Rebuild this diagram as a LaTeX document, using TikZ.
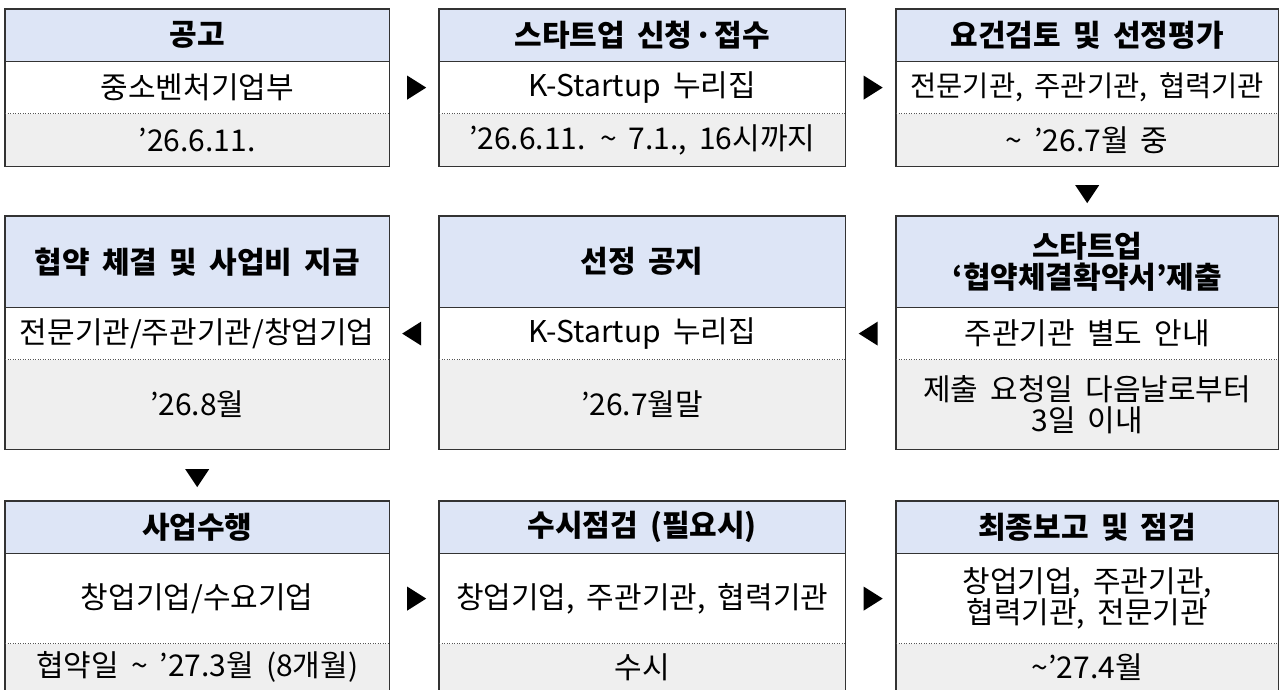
\documentclass[tikz,border=0pt]{standalone}
\usepackage{fontspec}
\setmainfont{Noto Sans CJK KR}[WordSpace=1.8]
\usetikzlibrary{positioning,calc}

\definecolor{headblue}{HTML}{DDE5F6}
\definecolor{footgray}{HTML}{EFEFEF}
\definecolor{framegray}{HTML}{333333}
\definecolor{dotgray}{HTML}{555555}

\newcommand{\arrowR}[2]{\fill ($(#1.east)!0.5!(#2.west)$) +(-7,-12) -- +(12,0) -- +(-7,12) -- cycle;}
\newcommand{\arrowL}[2]{\fill ($(#1.west)!0.5!(#2.east)$) +(7,-12) -- +(-12,0) -- +(7,12) -- cycle;}
\newcommand{\arrowD}[2]{\fill ($(#1.south)!0.5!(#2.north)$) +(-12,-6) -- +(12,-6) -- +(0,12) -- cycle;}

\begin{document}
\begin{tikzpicture}[x=1pt,y=-1pt,
    cell/.style={inner sep=0pt, align=center, font=\fontsize{30}{31}\selectfont},
    head/.style={cell, fill=headblue, font=\fontsize{30}{31}\selectfont\bfseries},
    body/.style={cell, fill=white},
    foot/.style={cell, fill=footgray},
    snug/.style={font=\fontsize{28.5}{31}\selectfont},
    colA/.style={minimum width=384pt}, colB/.style={minimum width=406pt},
    colC/.style={minimum width=382pt},
    frame/.style={draw=framegray, line width=1.3pt},
    dotline/.style={draw=dotgray, line width=1pt, dash pattern=on 1pt off 1.5pt}]
    \useasboundingbox (0,0) rectangle (1280,690);

    % row 1
    \node[head, colA, minimum height=52pt, anchor=north west] (notice-h) at (5,9) {공고};
    \node[body, colA, minimum height=52pt, below=0pt of notice-h] (notice-b) {중소벤처기업부};
    \node[foot, colA, minimum height=52pt, below=0pt of notice-b] (notice-f) {’26.6.11.};

    \node[head, colB, minimum height=52pt, anchor=north west] (apply-h) at (439,9) {스타트업 신청\hspace{2pt}·\hspace{2pt}접수};
    \node[body, colB, minimum height=52pt, below=0pt of apply-h] (apply-b) {K-Startup 누리집};
    \node[foot, colB, minimum height=52pt, below=0pt of apply-b] (apply-f) {’26.6.11. \textasciitilde{} 7.1., 16시까지};

    \node[head, colC, minimum height=52pt, anchor=north west] (review-h) at (896,9) {요건검토 및 선정평가};
    \node[body, colC, snug, minimum height=52pt, below=0pt of review-h] (review-b) {전문기관, 주관기관, 협력기관};
    \node[foot, colC, minimum height=52pt, below=0pt of review-b] (review-f) {\textasciitilde{} ’26.7월 중};

    % row 2
    \node[head, colC, minimum height=91pt, anchor=north west] (pledge-h) at (896,216) {스타트업\\‘협약체결확약서’제출};
    \node[body, colC, minimum height=52pt, below=0pt of pledge-h] (pledge-b) {주관기관 별도 안내};
    \node[foot, colC, minimum height=89pt, below=0pt of pledge-b] (pledge-f) {제출 요청일 다음날로부터\\3일 이내};

    \node[head, colB, minimum height=91pt, anchor=north west] (announce-h) at (439,216) {선정 공지};
    \node[body, colB, minimum height=52pt, below=0pt of announce-h] (announce-b) {K-Startup 누리집};
    \node[foot, colB, minimum height=89pt, below=0pt of announce-b] (announce-f) {’26.7월말};

    \node[head, colA, minimum height=91pt, anchor=north west] (contract-h) at (5,216) {협약 체결 및 사업비 지급};
    \node[body, colA, minimum height=52pt, below=0pt of contract-h] (contract-b) {전문기관/주관기관/창업기업};
    \node[foot, colA, minimum height=89pt, below=0pt of contract-b] (contract-f) {’26.8월};

    % row 3
    \node[head, colA, minimum height=52pt, anchor=north west] (perform-h) at (5,501) {사업수행};
    \node[body, colA, minimum height=90pt, below=0pt of perform-h] (perform-b) {창업기업/수요기업};
    \node[foot, colA, minimum height=46pt, below=0pt of perform-b] (perform-f) {협약일 \textasciitilde{} ’27.3월 (8개월)};

    \node[head, colB, minimum height=52pt, anchor=north west] (inspect-h) at (439,501) {수시점검 (필요시)};
    \node[body, colB, minimum height=90pt, below=0pt of inspect-h] (inspect-b) {창업기업, 주관기관, 협력기관};
    \node[foot, colB, minimum height=46pt, below=0pt of inspect-b] (inspect-f) {수시};

    \node[head, colC, minimum height=52pt, anchor=north west] (report-h) at (896,501) {최종보고 및 점검};
    \node[body, colC, minimum height=90pt, below=0pt of report-h] (report-b) {창업기업, 주관기관,\\협력기관, 전문기관};
    \node[foot, colC, minimum height=46pt, below=0pt of report-b] (report-f) {\textasciitilde’27.4월};

    % frames and separators
    \foreach \s in {notice,apply,review,pledge,announce,contract,perform,inspect,report}{
      \draw[frame] (\s-h.north west) rectangle (\s-f.south east);
      \draw[frame] (\s-h.south west) -- (\s-h.south east);
      \draw[dotline] (\s-b.south west) -- (\s-b.south east);
    }

    % flow marks
    \arrowR{notice-b}{apply-b}
    \arrowR{apply-b}{review-b}
    \arrowD{review-f}{pledge-h}
    \arrowL{pledge-b}{announce-b}
    \arrowL{announce-b}{contract-b}
    \arrowD{contract-f}{perform-h}
    \arrowR{perform-b}{inspect-b}
    \arrowR{inspect-b}{report-b}
\end{tikzpicture}
\end{document}
